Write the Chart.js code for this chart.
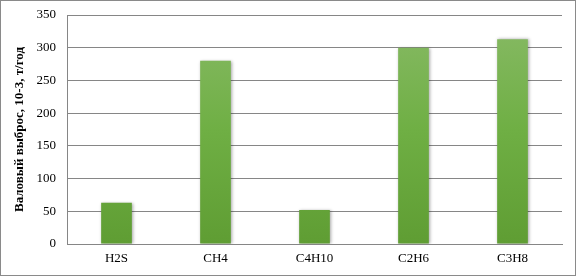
<!DOCTYPE html>
<html>
<head>
<meta charset="utf-8">
<script src="https://cdn.jsdelivr.net/npm/chart.js@4/dist/chart.umd.min.js"></script>
<style>
	html, body { margin: 0; padding: 0; background: #ffffff; }
	#wrap { width: 576px; height: 276px; }
</style>
</head>
<body>
<div id="wrap"><canvas id="emissionChart" width="576" height="276"></canvas></div>
<script>
const categories = ["H2S", "CH4", "C4H10", "C2H6", "C3H8"];
const emissions = [63, 280, 52, 300, 313];
const yTicks = [0, 50, 100, 150, 200, 250, 300, 350];
const yTitle = "Валовый выброс, 10-3, т/год";

// green gradient, lighter at the top of each bar
function barGradient(context) {
	const chart = context.chart;
	const area = chart.chartArea;
	if (!area) return "#6aab3e";
	const el = context.element;
	const top = el && el.y !== undefined ? el.y : area.top;
	const bottom = el && el.base !== undefined ? el.base : area.bottom;
	if (!isFinite(top) || !isFinite(bottom) || top === bottom) return "#6aab3e";
	const g = chart.ctx.createLinearGradient(0, top, 0, bottom);
	g.addColorStop(0, "#88ba66");
	g.addColorStop(0.5, "#6faf44");
	g.addColorStop(1, "#5f9d33");
	return g;
}

const frame = {
	id: "frame",
	beforeDatasetsDraw(chart) {
		const ctx = chart.ctx;
		ctx.save();
		ctx.shadowColor = "rgba(0,0,0,0.35)";
		ctx.shadowBlur = 3;
		ctx.shadowOffsetX = 1;
		ctx.shadowOffsetY = 0;
	},
	afterDatasetsDraw(chart) {
		chart.ctx.restore();
	},
	afterDraw(chart) {
		const ctx = chart.ctx;
		ctx.save();
		ctx.strokeStyle = "#8a8a8a";
		ctx.lineWidth = 1;
		ctx.strokeRect(0.5, 0.5, chart.width - 1, chart.height - 1);
		ctx.restore();
	}
};

new Chart(document.getElementById("emissionChart").getContext("2d"), {
	type: "bar",
	data: {
		labels: categories,
		datasets: [
			{
				data: emissions,
				backgroundColor: barGradient,
				borderWidth: 0,
				barPercentage: 0.31,
				categoryPercentage: 1.0,
			},
		],
	},
	options: {
		responsive: false,
		animation: false,
		layout: {
			padding: { left: 12, right: 14, top: 15, bottom: 8 },
		},
		plugins: {
			legend: { display: false },
			tooltip: { enabled: false },
		},
		scales: {
			x: {
				grid: { display: false, drawTicks: false },
				border: { color: "#868686", width: 1 },
				ticks: {
					color: "#000000",
					padding: 7,
					font: { family: "'Liberation Serif', 'Times New Roman', serif", size: 13 },
				},
				afterFit: (scale) => { scale.height = 24; },
			},
			y: {
				min: 0,
				max: 350,
				afterBuildTicks: (scale) => { scale.ticks = yTicks.map((v) => ({ value: v })); },
				grid: { color: "#868686", lineWidth: 1, drawTicks: false },
				border: { color: "#868686", width: 1 },
				ticks: {
					color: "#000000",
					padding: 11,
					font: { family: "'Liberation Serif', 'Times New Roman', serif", size: 13 },
				},
				title: {
					display: true,
					text: yTitle,
					color: "#000000",
					padding: { top: 0, bottom: 4 },
					font: { family: "'Liberation Serif', 'Times New Roman', serif", size: 13, weight: "bold" },
				},
				afterFit: (scale) => {
					scale.width = 55;
					scale.paddingTop = 0;
					scale.paddingBottom = 0;
				},
			},
		},
	},
	plugins: [frame],
});
</script>
</body>
</html>
